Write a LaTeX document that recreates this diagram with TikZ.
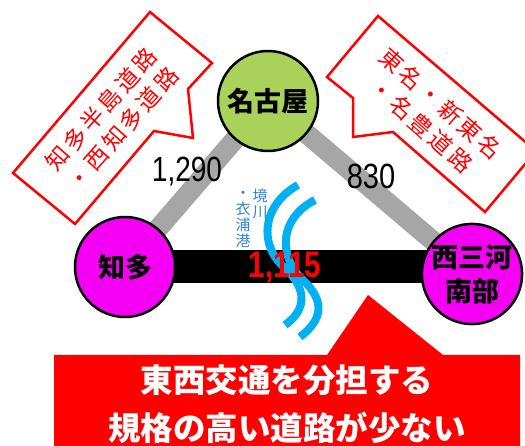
\documentclass[tikz,border=0pt]{standalone}
\usepackage{fontspec}
\newfontfamily\jp{Noto Sans CJK JP}
\newfontfamily\jpls{Noto Sans CJK JP}[LetterSpace=14]
\newfontfamily\numfont{Liberation Sans}
\usetikzlibrary{backgrounds}
\definecolor{nagoyagreen}{RGB}{170,210,90}
\definecolor{mag}{RGB}{245,0,245}
\definecolor{roadgray}{RGB}{166,166,166}
\definecolor{seablue}{RGB}{0,176,240}
\definecolor{textblue}{RGB}{46,134,205}
\definecolor{pured}{RGB}{255,0,0}
\tikzset{
  city/.style={circle, draw=black, line width=2.5pt, minimum size=100pt, inner sep=0pt,
    font=\jp\bfseries\fontsize{27}{34}\selectfont, align=center},
  grayroad/.style={draw=roadgray, line width=20pt},
  blackroad/.style={draw=black, line width=33pt},
  wave/.style={draw=seablue, line width=8pt},
  callout/.style={draw=pured, fill=white, line width=2.5pt, line join=miter},
  calltext/.style={text=pured, font=\jpls\fontsize{23}{29}\selectfont, align=center, inner sep=0pt},
  numlabel/.style={font=\numfont\fontsize{35}{40}\selectfont, inner sep=0pt},
  bluetext/.style={text=textblue, font=\jp\fontsize{15}{16}\selectfont, align=center, inner sep=0pt},
  msgtext/.style={text=white, font=\jp\bfseries\fontsize{32.5}{48}\selectfont, align=center, inner sep=0pt}
}
\begin{document}
\begin{tikzpicture}[x=1pt,y=-1pt]
\useasboundingbox (0,0) rectangle (525,446);
% callouts
\draw[callout] (150,12) -- (212,63) -- (188,89) -- (193,138) -- (154,131) -- (75,224) -- (13,173) -- cycle;
\node[calltext, rotate=48.5] (ltext) at (112,119) {知多半島道路\\・西知多道路};
\draw[callout] (378,16) -- (536,151) -- (485,212) -- (393,132) -- (353,137) -- (353,98) -- (327,77) -- cycle;
\node[calltext, rotate=-41.5] (rtext) at (431,114.5) {東名・新東名\\・名豊道路};
% cities
\node[city, fill=nagoyagreen] (nagoya) at (268,101) {名古屋};
\node[city, fill=mag] (chita) at (125,267) {知多};
\node[city, fill=mag] (nishi) at (472,274) {西三河\\南部};
\begin{pgfonlayer}{background}
  \draw[grayroad] (chita.center) -- (nagoya.center);
  \draw[grayroad] (nagoya.center) -- (nishi.center);
  \draw[blackroad] (chita.center) -- (chita.center -| nishi.center);
  \draw[wave] (298,185) .. controls (262,205) and (258,245) .. (285,268) .. controls (308,290) and (306,310) .. (285,325);
  \draw[wave] (315,200) .. controls (280,218) and (277,255) .. (303,280) .. controls (326,302) and (322,320) .. (300,337);
\end{pgfonlayer}
% labels
\node[numlabel] (n1290) at (187,172) {\scalebox{0.8}[1]{1,290}};
\node[numlabel] (n830) at (371,176) {\scalebox{0.83}[1]{830}};
\node[numlabel, text=pured, font=\numfont\bfseries\fontsize{37}{40}\selectfont] (n1115) at (285,268) {\scalebox{0.8}[1]{1,115}};
\node[bluetext] (sakai) at (260,204) {境\\川};
\node[bluetext] (kinu) at (243,219) {・\\衣\\浦\\港};
% message box
\fill[pured] (54,446) -- (54,355) -- (327,355) -- (368,295) -- (443,355) -- (520,355) -- (520,446) -- cycle;
\node[msgtext] (msg) at (287,404) {東西交通を分担する\\規格の高い道路が少ない};
\end{tikzpicture}
\end{document}
